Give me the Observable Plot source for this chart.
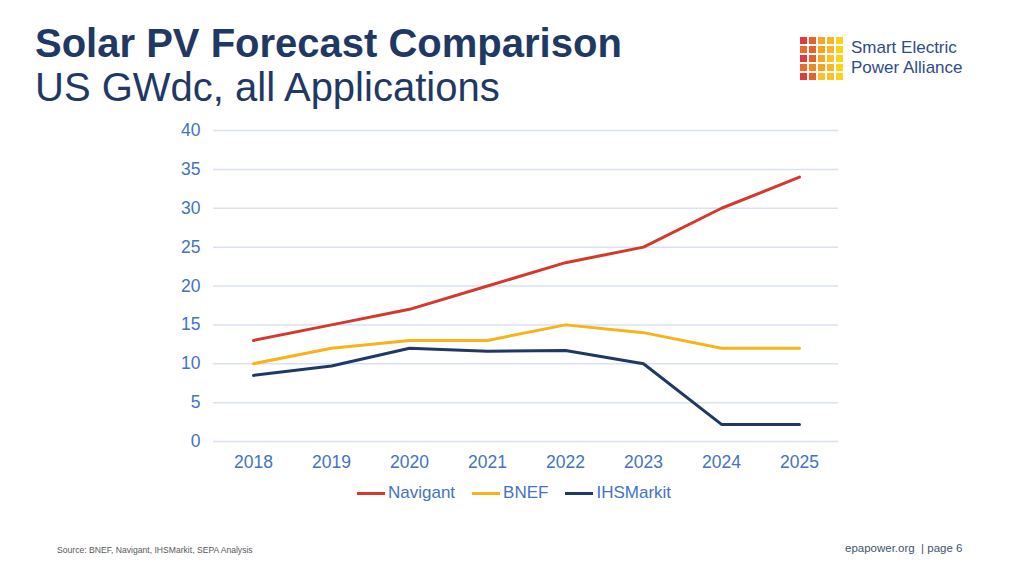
<!DOCTYPE html>
<html><head><meta charset="utf-8">
<script src="https://cdn.jsdelivr.net/npm/d3@7"></script>
<script src="https://cdn.jsdelivr.net/npm/@observablehq/plot@0.6"></script>
<style>
body{margin:0;width:1024px;height:576px;background:#fff;position:relative;font-family:"Liberation Sans",Arial,sans-serif;overflow:hidden}
#title{position:absolute;left:35px;top:20px;font-size:40px;font-weight:bold;color:#1f3864;line-height:46px}
#sub{position:absolute;left:35px;top:64px;font-size:40px;color:#1f3864;line-height:46px}
#chart{position:absolute;left:0;top:110px}
#legend{position:absolute;top:483px;left:357px;font-size:17px;color:#4472c4;display:flex;gap:0}
.li{display:flex;align-items:center;margin-right:17px}
.sw{width:28px;height:3px;margin-right:3px}
#src{position:absolute;left:57px;top:545px;font-size:8.6px;color:#595959}
#pg{position:absolute;left:845px;top:542px;font-size:11.5px;color:#44546a}
#logo{position:absolute;left:800px;top:37px;display:grid;grid-template-columns:repeat(5,7px);grid-gap:2px}
#logo div{width:7px;height:7px}
.lt{position:absolute;left:851px;font-size:17px;line-height:19px;height:19px;color:#2f4b8c;font-family:"Liberation Sans",Arial,sans-serif;white-space:nowrap}
</style></head><body>
<div id="title">Solar PV Forecast Comparison</div>
<div id="sub">US GWdc, all Applications</div>
<div id="logo"></div>
<div class="lt" style="top:38px">Smart Electric</div>
<div class="lt" style="top:57.5px">Power Alliance</div>
<div id="chart"></div>
<div id="legend"></div>
<div id="src">Source: BNEF, Navigant, IHSMarkit, SEPA Analysis</div>
<div id="pg">epapower.org &nbsp;| page 6</div>
<script>
const years = ["2018","2019","2020","2021","2022","2023","2024","2025"];
const navigant = [13, 15, 17, 20, 23, 25, 30, 34];
const bnef = [10, 12, 13, 13, 15, 14, 12, 12];
const ihsmarkit = [8.5, 9.7, 12, 11.6, 11.7, 10, 2.2, 2.2];
const seriesNames = ["Navigant", "BNEF", "IHSMarkit"];
const seriesColors = ["#d33a2c", "#f7b319", "#1f3868"];
const yTicks = [0, 5, 10, 15, 20, 25, 30, 35, 40];

const logoColors = [
  "#e0393e","#e8602c","#f5a623","#f9b52a","#fcd116",
  "#ec6a2c","#e8602c","#f7a21d","#f9b52a","#fdd20e",
  "#e0393e","#e8602c","#f5a623","#f9c12a","#fcd116",
  "#ec6a2c","#f08a24","#f7a21d","#f9b52a","#fdd20e",
  "#e0393e","#e8602c","#fbc02d","#f9c12a","#fcd116"
];
const logo = document.getElementById("logo");
logoColors.forEach(c => { const d = document.createElement("div"); d.style.background = c; logo.appendChild(d); });

const data = [];
[navigant, bnef, ihsmarkit].forEach((arr, i) => arr.forEach((v, j) => data.push({series: seriesNames[i], year: years[j], value: v})));

const chart = Plot.plot({
  width: 900, height: 370,
  marginTop: 20, marginBottom: 39, marginLeft: 213, marginRight: 62,
  style: {fontFamily: "Liberation Sans, Arial, sans-serif", fontSize: "17.5px", color: "#4472c4"},
  x: {type: "point", domain: years, padding: 0.5, label: null},
  y: {domain: [0, 40], ticks: yTicks, label: null},
  color: {domain: seriesNames, range: seriesColors},
  marks: [
    Plot.gridY(yTicks, {stroke: "#d9e1f2", strokeOpacity: 1, strokeWidth: 1.5}),
    Plot.axisX({tickSize: 0, tickPadding: 14, fill: "#4472c4"}),
    Plot.axisY({ticks: yTicks, tickSize: 0, tickPadding: 13, fill: "#4472c4"}),
    Plot.line(data, {x: "year", y: "value", z: "series", stroke: "series", strokeWidth: 3, strokeLinejoin: "round", strokeLinecap: "round"})
  ]
});
document.getElementById("chart").appendChild(chart);

const legend = document.getElementById("legend");
seriesNames.forEach((n, i) => {
  const li = document.createElement("div"); li.className = "li";
  const sw = document.createElement("div"); sw.className = "sw"; sw.style.background = seriesColors[i];
  const t = document.createElement("span"); t.textContent = n;
  li.appendChild(sw); li.appendChild(t); legend.appendChild(li);
});
</script>
</body></html>
